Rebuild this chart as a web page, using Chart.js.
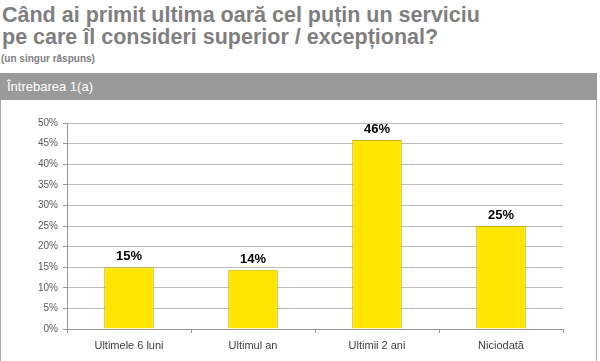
<!DOCTYPE html>
<html>
<head>
<meta charset="utf-8">
<script src="https://cdn.jsdelivr.net/npm/chart.js@4/dist/chart.umd.min.js"></script>
<style>
  html, body { margin: 0; padding: 0; background: #fff; }
  body { width: 600px; height: 361px; position: relative; overflow: hidden; font-family: "Liberation Sans", Arial, sans-serif; }
  #title { position: absolute; left: 2px; top: 4px; font-size: 21.5px; font-weight: bold; color: #7f7f7f; line-height: 22px; }
  #sub { position: absolute; left: 1px; top: 53px; font-size: 10px; font-weight: bold; color: #808080; }
  #band { position: absolute; left: 0; top: 73px; width: 597px; height: 27px; background: #9a9a9a; }
  #band span { position: absolute; left: 7px; top: 6px; font-size: 13px; color: #fff; }
  #panel { position: absolute; left: 0; top: 100px; width: 595px; height: 270px; border: 1px solid #a8a8a8; border-top: none; }
  #chart { position: absolute; left: 0; top: 100px; }
</style>
</head>
<body>
<div id="title">Când ai primit ultima oară cel puțin un serviciu<br>pe care îl consideri superior / excepțional?</div>
<div id="sub">(un singur răspuns)</div>
<div id="band"><span>Întrebarea 1(a)</span></div>
<div id="panel"></div>
<canvas id="chart" width="597" height="261"></canvas>
<script>
// answer categories and share of respondents (%)
const categories = ['Ultimele 6 luni', 'Ultimul an', 'Ultimii 2 ani', 'Niciodată'];
const values = [15, 14.4, 45.9, 25];
const yTicksMax = 50;
const yStep = 5;

// percent labels above each bar, placed from the bar elements
const barLabels = {
  id: 'barLabels',
  afterDatasetsDraw(chart) {
    const c = chart.ctx;
    const meta = chart.getDatasetMeta(0);
    c.save();
    c.font = 'bold 13px "Liberation Sans", Arial, sans-serif';
    c.fillStyle = '#000';
    c.textAlign = 'center';
    c.textBaseline = 'bottom';
    meta.data.forEach((bar, i) => {
      c.fillText(Math.round(values[i]) + '%', bar.x, bar.y - 4);
    });
    c.restore();
  }
};

new Chart(document.getElementById('chart'), {
  type: 'bar',
  data: {
    labels: categories,
    datasets: [{
      data: values,
      backgroundColor: '#ffe600',
      borderColor: '#c9b400',
      borderWidth: 1,
      barPercentage: 0.4,
      categoryPercentage: 1,
    }],
  },
  options: {
    responsive: false,
    animation: false,
    layout: { padding: { left: 0, right: 34, top: 23, bottom: 0 } },
    plugins: { legend: { display: false }, tooltip: { enabled: false } },
    scales: {
      x: {
        grid: { display: true, drawOnChartArea: false, tickLength: 4, tickColor: '#999', offset: true },
        border: { color: '#999' },
        ticks: { color: '#404040', font: { size: 11, family: '"Liberation Sans", Arial' }, padding: 6 },
        afterFit: s => { s.height = 32; },
      },
      y: {
        min: 0, max: yTicksMax,
        grid: { color: '#bdbdbd', tickLength: 4, tickColor: '#999' },
        border: { color: '#999' },
        ticks: {
          stepSize: yStep,
          color: '#595959',
          font: { size: 10, family: '"Liberation Sans", Arial' },
          padding: 5,
          callback: v => v + '%',
        },
        afterFit: s => { s.width = 67; },
      },
    },
  },
  plugins: [barLabels],
});
</script>
</body>
</html>
